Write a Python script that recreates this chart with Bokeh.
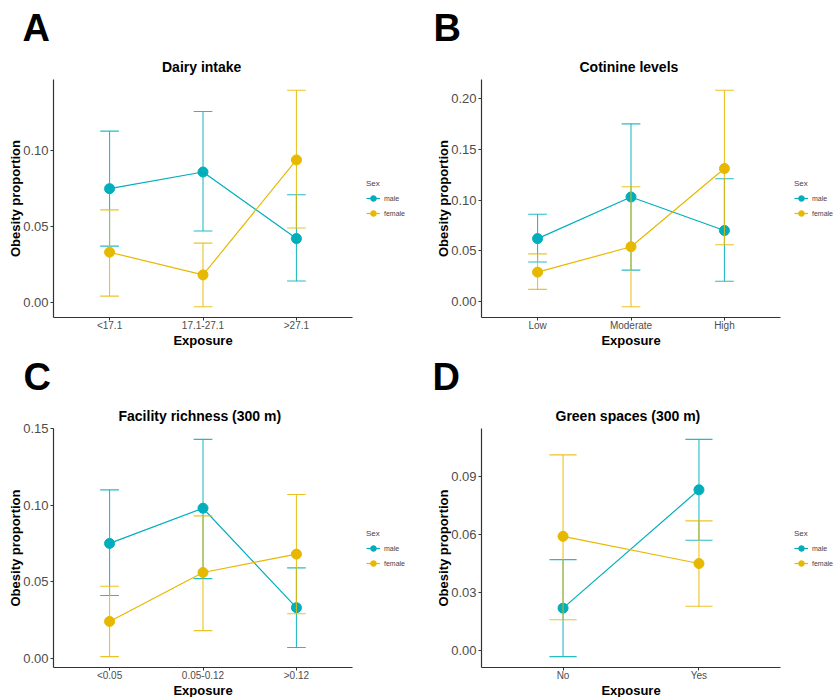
from bokeh.plotting import figure
from bokeh.models import Range1d, FixedTicker, Title, Legend, LegendItem, NumeralTickFormatter
from bokeh.layouts import column, row
from bokeh.embed import file_html
from bokeh.resources import INLINE

# ---------------- data ----------------
cats_a = ["<17.1", "17.1-27.1", ">27.1"]
male_a = [0.075, 0.086, 0.042]
male_a_lo = [0.037, 0.047, 0.014]
male_a_hi = [0.113, 0.126, 0.071]
female_a = [0.033, 0.018, 0.094]
female_a_lo = [0.004, -0.003, 0.049]
female_a_hi = [0.061, 0.039, 0.140]

cats_b = ["Low", "Moderate", "High"]
male_b = [0.062, 0.103, 0.070]
male_b_lo = [0.039, 0.031, 0.020]
male_b_hi = [0.086, 0.175, 0.121]
female_b = [0.029, 0.054, 0.131]
female_b_lo = [0.012, -0.005, 0.056]
female_b_hi = [0.047, 0.113, 0.208]

cats_c = ["<0.05", "0.05-0.12", ">0.12"]
male_c = [0.075, 0.098, 0.033]
male_c_lo = [0.041, 0.052, 0.007]
male_c_hi = [0.110, 0.143, 0.059]
female_c = [0.024, 0.056, 0.068]
female_c_lo = [0.001, 0.018, 0.029]
female_c_hi = [0.047, 0.093, 0.107]

cats_d = ["No", "Yes"]
male_d = [0.022, 0.083]
male_d_lo = [-0.003, 0.057]
male_d_hi = [0.047, 0.109]
female_d = [0.059, 0.045]
female_d_lo = [0.016, 0.023]
female_d_hi = [0.101, 0.067]

yticks_a = [0.00, 0.05, 0.10]
yticks_b = [0.00, 0.05, 0.10, 0.15, 0.20]
yticks_c = [0.00, 0.05, 0.10, 0.15]
yticks_d = [0.00, 0.03, 0.06, 0.09]

sex_labels = ["male", "female"]

# ---------------- style ----------------
FONT = "Liberation Sans"
COLORS = ["#00AFBB", "#E7B800"]
AXIS_COL = "#333333"
TICK_TXT = "#4D4D4D"
AXIS_W = 299          # pixel length of the drawn x axis
XLAB_HALF = 29.6      # half width of the bold 13px "Exposure" text


def panel(title, title_half, letter, cats, series, yticks, fw, fh, bl, bt, bb, letter_dx):
    n = len(cats)
    xs = list(range(1, n + 1))
    lo = min(min(s[1]) for s in series)
    hi = max(max(s[2]) for s in series)
    pad = 0.05 * (hi - lo)
    x0, x1 = 0.4, n + 0.6
    x_end = x0 + (x1 - x0) * fw / AXIS_W
    p = figure(frame_width=fw, frame_height=fh, output_backend="svg", toolbar_location=None,
               x_range=Range1d(x0, x_end), y_range=Range1d(lo - pad, hi + pad),
               min_border_left=bl, min_border_right=0, min_border_top=bt, min_border_bottom=bb,
               title=None)
    p.outline_line_color = None
    p.xgrid.visible = False
    p.ygrid.visible = False

    # plot title centred over the drawn axis (not the wider frame)
    p.add_layout(Title(text=title, align="left", offset=AXIS_W / 2 - title_half,
                       text_font=FONT, text_font_size="14px",
                       text_font_style="bold", text_color="black"), "above")
    p.add_layout(Title(text=letter, align="left", offset=letter_dx, text_font=FONT,
                       text_font_size="38px", text_font_style="bold", text_color="black",
                       standoff=5), "above")

    for ax in (p.xaxis[0], p.yaxis[0]):
        ax.axis_line_color = AXIS_COL
        ax.axis_line_width = 1.2
        ax.major_tick_line_color = AXIS_COL
        ax.major_tick_out = 3
        ax.major_tick_in = 0
        ax.minor_tick_line_color = None
        ax.major_label_text_font = FONT
        ax.major_label_text_color = TICK_TXT
        ax.axis_label_text_font = FONT
        ax.axis_label_text_font_style = "bold"
        ax.axis_label_text_font_size = "13px"
        ax.axis_label_text_color = "black"

    p.xaxis.bounds = (x0, x1)
    p.xaxis.ticker = FixedTicker(ticks=xs)
    p.xaxis.major_label_overrides = {x: c for x, c in zip(xs, cats)}
    p.xaxis.major_label_text_font_size = "10px"
    p.xaxis.major_label_standoff = -1
    # x axis title centred under the drawn axis
    p.add_layout(Title(text="Exposure", align="left", offset=AXIS_W / 2 - XLAB_HALF,
                       text_font=FONT, text_font_size="13px", text_font_style="bold",
                       text_color="black", standoff=-6), "below")

    p.yaxis.ticker = FixedTicker(ticks=yticks)
    p.yaxis.formatter = NumeralTickFormatter(format="0.00")
    p.yaxis.major_label_text_font_size = "13px"
    p.yaxis.axis_label = "Obesity proportion"
    p.yaxis.major_label_standoff = 2
    p.yaxis.axis_label_standoff = -3

    items = []
    for (vals, los, his), col, lab in zip(series, COLORS, sex_labels):
        p.segment(x0=xs, y0=los, x1=xs, y1=his, line_color=col, line_width=1.1, line_alpha=0.85)
        p.segment(x0=[x - 0.1 for x in xs], y0=los, x1=[x + 0.1 for x in xs], y1=los,
                  line_color=col, line_width=1.1, line_alpha=0.85)
        p.segment(x0=[x - 0.1 for x in xs], y0=his, x1=[x + 0.1 for x in xs], y1=his,
                  line_color=col, line_width=1.1, line_alpha=0.85)
        ln = p.line(xs, vals, line_color=col, line_width=1.2)
        pt = p.scatter(xs, vals, size=10, fill_color=col, line_color=col)
        items.append(LegendItem(label=lab, renderers=[ln, pt]))

    leg = Legend(items=items, title="Sex", location=(AXIS_W + 14, fh // 2 - 22),
                 label_text_font=FONT, label_text_font_size="7px",
                 title_text_font=FONT, title_text_font_size="8px", title_text_font_style="normal",
                 title_standoff=3, glyph_width=14, glyph_height=14, spacing=1,
                 label_standoff=4, padding=2, margin=0,
                 background_fill_alpha=0, border_line_color=None)
    p.add_layout(leg)
    return p


pa = panel("Dairy intake", 41, "A", cats_a,
           [(male_a, male_a_lo, male_a_hi), (female_a, female_a_lo, female_a_hi)],
           yticks_a, 367, 238, 53, 79, 31, -31)
pb = panel("Cotinine levels", 51.5, "B", cats_b,
           [(male_b, male_b_lo, male_b_hi), (female_b, female_b_lo, female_b_hi)],
           yticks_b, 354, 238, 61, 79, 31, -48)
pc = panel("Facility richness (300 m)", 84.5, "C", cats_c,
           [(male_c, male_c_lo, male_c_hi), (female_c, female_c_lo, female_c_hi)],
           yticks_c, 367, 239, 53, 80, 30, -30)
pd_ = panel("Green spaces (300 m)", 75.5, "D", cats_d,
            [(male_d, male_d_lo, male_d_hi), (female_d, female_d_lo, female_d_hi)],
            yticks_d, 354, 239, 61, 80, 30, -49)

layout = column(row(pa, pb), row(pc, pd_))
open("out.html", "w").write(file_html(layout, INLINE))
